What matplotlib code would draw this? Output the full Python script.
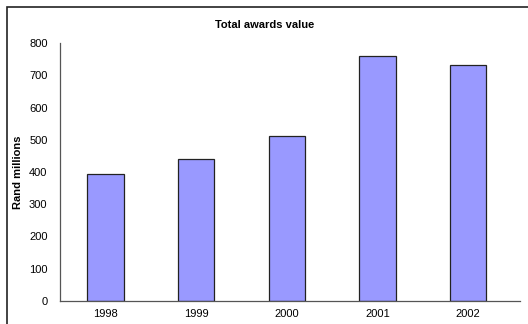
import matplotlib.pyplot as plt
from matplotlib.patches import Rectangle

plt.rcParams['font.family'] = ['Liberation Sans', 'DejaVu Sans']

# Total value of awards per year, in Rand millions
years = ['1998', '1999', '2000', '2001', '2002']
values = [394, 439, 512, 761, 732]
yticks = [0, 100, 200, 300, 400, 500, 600, 700, 800]

fig = plt.figure(figsize=(5.28, 3.24), dpi=100)
ax = fig.add_axes([60 / 528, 23 / 324, 460 / 528, 258 / 324])

ax.bar(range(len(years)), values, width=0.4, color='#9999FF',
       edgecolor='#222222', linewidth=0.9)

ax.set_xlim(-0.5, 4.57)
ax.set_ylim(0, 800)
ax.set_yticks(yticks)
ax.set_xticks(range(len(years)))
ax.set_xticklabels(years)
ax.tick_params(axis='both', length=0, labelsize=8, colors='black')
ax.tick_params(axis='y', pad=9)
ax.tick_params(axis='x', pad=6)

for side in ['top', 'right']:
    ax.spines[side].set_visible(False)
ax.spines['left'].set_color('#555555')
ax.spines['bottom'].set_color('#555555')
ax.spines['left'].set_linewidth(0.9)
ax.spines['bottom'].set_linewidth(0.9)

ax.set_ylabel('Rand millions', fontsize=8, fontweight='bold')
ax.yaxis.set_label_coords(-37 / 460, 0.5)
fig.text(0.502, 1 - 25 / 324, 'Total awards value', fontsize=8,
         fontweight='bold', ha='center', va='center')

# chart area border, open on the right and bottom
fig.patches.append(Rectangle((6.5 / 528, -0.1), 1.2, 1 - 7.5 / 324 + 0.1,
                             transform=fig.transFigure, fill=False,
                             edgecolor='#222222', linewidth=1.2))

fig.savefig('out.png', dpi=100)
